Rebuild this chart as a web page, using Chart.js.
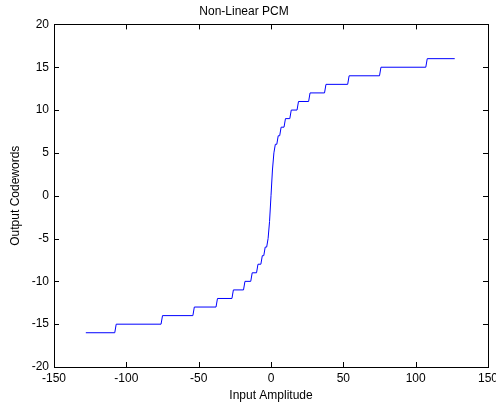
<!DOCTYPE html>
<html>
<head>
<meta charset="utf-8">
<script src="https://cdn.jsdelivr.net/npm/chart.js@4/dist/chart.umd.min.js"></script>
<style>
  html, body { margin: 0; padding: 0; background: #fff; }
  #wrap { width: 496px; height: 407px; }
</style>
</head>
<body>
<div id="wrap"><canvas id="pcm-chart"></canvas></div>
<script>
// corner points of the quantiser staircase (first / last input of each level)
const amplitude = [
  -128, -108, -107, -76, -75, -54, -53, -38, -37, -27, -26, -19, -18, -14,
  -13, -10, -9, -7, -6, -5, -4, -3, -2, -1, 0,
  1, 2, 3, 4, 5, 6, 7, 9, 10, 13, 14, 18, 19, 26, 27, 37, 38, 53, 54, 75,
  76, 107, 108, 127
];
const codeword = [
  -16, -16, -15, -15, -14, -14, -13, -13, -12, -12, -11, -11, -10, -10,
  -9, -9, -8, -8, -7, -7, -6, -6, -5, -3, 0,
  3, 5, 6, 6, 7, 7, 8, 8, 9, 9, 10, 10, 11, 11, 12, 12, 13, 13, 14, 14,
  15, 15, 16, 16
];
const xTicks = [-150, -100, -50, 0, 50, 100, 150];
const yTicks = [-20, -15, -10, -5, 0, 5, 10, 15, 20];

const points = amplitude.map((x, i) => ({ x: x, y: codeword[i] }));
const font = { family: 'Arial, "Liberation Sans", sans-serif', size: 12, weight: 'normal' };

// matlab style box with inward ticks
const boxTicks = {
  id: 'boxTicks',
  afterDraw(chart) {
    const { ctx, chartArea: a, scales } = chart;
    const len = 5;
    ctx.save();
    ctx.strokeStyle = '#000';
    ctx.lineWidth = 1;
    ctx.beginPath();
    xTicks.forEach(v => {
      const px = Math.round(scales.x.getPixelForValue(v)) + 0.5;
      ctx.moveTo(px, a.bottom); ctx.lineTo(px, a.bottom - len);
      ctx.moveTo(px, a.top); ctx.lineTo(px, a.top + len);
    });
    yTicks.forEach(v => {
      const py = Math.round(scales.y.getPixelForValue(v)) + 0.5;
      ctx.moveTo(a.left, py); ctx.lineTo(a.left + len, py);
      ctx.moveTo(a.right, py); ctx.lineTo(a.right - len, py);
    });
    ctx.stroke();
    ctx.strokeRect(Math.round(a.left) + 0.5, Math.round(a.top) + 0.5,
      Math.round(a.right - a.left), Math.round(a.bottom - a.top));
    ctx.restore();
  }
};

new Chart(document.getElementById('pcm-chart'), {
  type: 'line',
  data: {
    datasets: [{
      label: 'Non-Linear PCM',
      data: points,
      borderColor: '#0000ff',
      borderWidth: 1,
      pointRadius: 0,
      tension: 0,
      fill: false
    }]
  },
  options: {
    responsive: true,
    maintainAspectRatio: false,
    animation: false,
    layout: { padding: { left: 0, top: 0, right: 8, bottom: 0 } },
    plugins: {
      legend: { display: false },
      tooltip: { enabled: false },
      title: {
        display: true,
        text: 'Non-Linear PCM',
        color: '#000',
        font: font,
        padding: { top: 4, bottom: 6 }
      }
    },
    scales: {
      x: {
        type: 'linear',
        min: -150,
        max: 150,
        afterBuildTicks: s => { s.ticks = xTicks.map(v => ({ value: v })); },
        afterFit: s => { s.height = 40; s.paddingLeft = 0; s.paddingRight = 0; },
        grid: { display: false, drawTicks: false },
        border: { display: false },
        ticks: { color: '#000', font: font, padding: 4, maxRotation: 0, autoSkip: false },
        title: { display: true, text: 'Input Amplitude', color: '#000', font: font, padding: { bottom: 4 } }
      },
      y: {
        type: 'linear',
        min: -20,
        max: 20,
        afterBuildTicks: s => { s.ticks = yTicks.map(v => ({ value: v })); },
        afterFit: s => { s.width = 54; s.paddingTop = 0; s.paddingBottom = 0; },
        grid: { display: false, drawTicks: false },
        border: { display: false },
        ticks: { color: '#000', font: font, padding: 5, autoSkip: false },
        title: { display: true, text: 'Output Codewords', color: '#000', font: font, padding: { top: 8 } }
      }
    }
  },
  plugins: [boxTicks]
});
</script>
</body>
</html>
